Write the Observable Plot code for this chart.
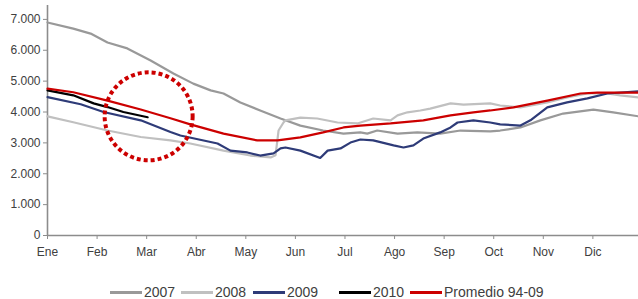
<!DOCTYPE html>
<html>
<head>
<meta charset="utf-8">
<script src="https://cdn.jsdelivr.net/npm/d3@7"></script>
<script src="https://cdn.jsdelivr.net/npm/@observablehq/plot@0.6"></script>
<style>
  html, body { margin: 0; padding: 0; background: #fff; }
  body { width: 638px; height: 299px; overflow: hidden; font-family: "Liberation Sans", Arial, sans-serif; }
  #chart { height: 262px; }
  #legend { position: relative; height: 37px; font-size: 14px; color: #404040; }
  .item { position: absolute; top: 22px; display: flex; align-items: center; height: 16px; }
  .sw { width: 32px; height: 3px; margin-right: 2px; }
</style>
</head>
<body>
<div id="chart"></div>
<div id="legend"></div>
<script>
// Month labels (x positions are month index 0..11)
const months = ["Ene","Feb","Mar","Abr","May","Jun","Jul","Ago","Sep","Oct","Nov","Dic"];
const yTicks = [0,1000,2000,3000,4000,5000,6000,7000];

const seriesNames = ["2007","2008","2009","2010","Promedio 94-09"];
const seriesColors = ["#999999","#c0c0c0","#2e3b78","#000000","#cc0000"];

// [month, value] pairs
const s2007 = [[0,6900],[0.52,6700],[0.87,6540],[1.21,6250],[1.61,6060],[2.08,5670],[2.54,5250],[2.94,4920],[3.29,4700],[3.55,4600],[3.89,4310],[4.29,4050],[4.70,3790],[5.10,3560],[5.56,3400],[5.97,3300],[6.31,3340],[6.45,3300],[6.65,3400],[7.06,3300],[7.46,3340],[7.92,3300],[8.33,3400],[8.93,3370],[9.13,3400],[9.54,3500],[9.94,3730],[10.40,3950],[11.01,4080],[11.41,3990],[11.92,3860]];
const s2008 = [[0,3860],[0.52,3670],[1.21,3400],[1.88,3190],[2.48,3080],[2.88,2980],[3.55,2750],[4.09,2590],[4.50,2530],[4.60,2600],[4.66,3400],[4.76,3660],[4.80,3730],[5.10,3820],[5.44,3790],[5.85,3660],[6.25,3630],[6.57,3790],[6.92,3730],[7.06,3890],[7.26,3990],[7.52,4050],[7.72,4110],[8.13,4280],[8.39,4240],[8.93,4280],[9.13,4210],[9.54,4150],[10.08,4310],[10.48,4470],[10.89,4600],[11.29,4600],[11.55,4540],[11.92,4470]];
const s2009 = [[0,4480],[0.67,4250],[1.13,4000],[1.88,3730],[2.48,3350],[2.68,3240],[3.43,2980],[3.69,2750],[4.03,2690],[4.29,2590],[4.56,2660],[4.70,2820],[4.80,2850],[5.10,2750],[5.50,2510],[5.65,2750],[5.91,2820],[6.11,3010],[6.31,3110],[6.57,3080],[6.98,2920],[7.18,2850],[7.38,2920],[7.58,3140],[7.92,3340],[8.13,3500],[8.27,3660],[8.59,3730],[8.93,3660],[9.13,3600],[9.54,3560],[9.74,3730],[10.08,4150],[10.48,4310],[10.89,4440],[11.29,4600],[11.92,4670]];
const s2010 = [[0,4700],[0.52,4540],[0.93,4280],[1.21,4160],[1.53,4000],[2.02,3830]];
const sProm = [[0,4760],[0.52,4640],[1.21,4370],[1.88,4080],[2.48,3800],[2.88,3600],[3.55,3300],[4.23,3080],[4.64,3080],[5.10,3180],[5.56,3340],[5.97,3500],[6.31,3560],[6.92,3630],[7.58,3730],[8.13,3890],[8.59,3990],[8.93,4050],[9.40,4150],[10.08,4370],[10.75,4600],[11.09,4630],[11.92,4630]];

// highlighted region (dotted circle)
const highlight = [{m: 2.04, v: 3860}];

const allSeries = [s2007, s2008, s2009, s2010, sProm];
const table = allSeries.flatMap((s, i) => s.map(([m, v]) => ({m, v, series: seriesNames[i]})));

const fmt = d => d3.format(",")(d).replace(/,/g, ".");

const chart = Plot.plot({
  width: 638,
  height: 262,
  marginLeft: 47,
  marginRight: 0,
  marginTop: 5,
  marginBottom: 27,
  style: {fontFamily: "Liberation Sans, Arial, sans-serif", fontSize: "12px", color: "#404040", background: "#fff"},
  x: {domain: [0, 11.92]},
  y: {domain: [0, 7450]},
  marks: [
    Plot.ruleX([0], {stroke: "#8c8c8c", strokeWidth: 1.6}),
    Plot.ruleY([0], {stroke: "#8c8c8c", strokeWidth: 1.6}),
    Plot.axisY({ticks: yTicks, tickFormat: fmt, tickSize: 4, tickPadding: 3, stroke: "#8c8c8c", label: null, fill: "#404040"}),
    Plot.axisX({ticks: d3.range(months.length), tickFormat: i => months[i], tickSize: 4, tickPadding: 8, stroke: "#8c8c8c", label: null, fill: "#404040"}),
    ...seriesNames.map((name, i) => Plot.line(table.filter(d => d.series === name), {x: "m", y: "v", stroke: seriesColors[i], strokeWidth: 2.2})),
    Plot.dot(highlight, {x: "m", y: "v", r: 44, stroke: "#cc0000", strokeWidth: 4, strokeDasharray: "4 3", fill: "none"})
  ]
});
document.getElementById("chart").appendChild(chart);

// legend
const lefts = [110, 181, 253, 339, 410];
const legend = document.getElementById("legend");
seriesNames.forEach((name, i) => {
  const it = document.createElement("div");
  it.className = "item";
  it.style.left = lefts[i] + "px";
  const sw = document.createElement("span");
  sw.className = "sw";
  sw.style.background = seriesColors[i];
  const tx = document.createElement("span");
  tx.textContent = name;
  it.appendChild(sw); it.appendChild(tx);
  legend.appendChild(it);
});
</script>
</body>
</html>
